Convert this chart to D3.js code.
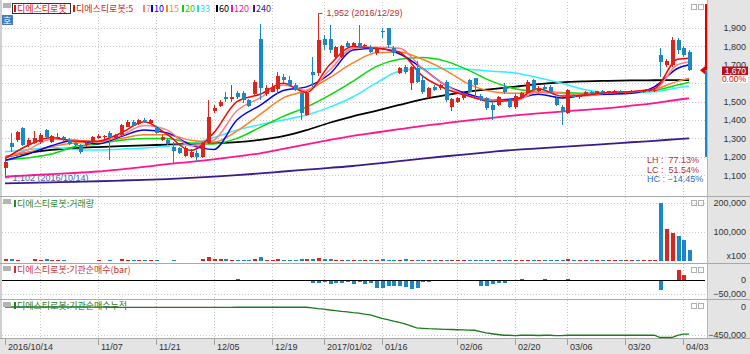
<!DOCTYPE html>
<html><head><meta charset="utf-8">
<script src="https://cdn.jsdelivr.net/npm/d3@7"></script>
<style>
body{margin:0;background:#fff;}
svg{display:block;}
text{font-family:"Liberation Sans","DejaVu Sans",sans-serif;}
.kr{font-family:"Noto Sans CJK KR",sans-serif;}
</style></head><body>
<svg id="c" width="750" height="354"></svg>
<script>
// ---------------- DATA ----------------
const tickIdx    = [0,16,26,36,46,55,65,78,88,97,107,117];
const tickLabels = ["2016/10/14","11/07","11/21","12/05","12/19","2017/01/02","01/16","02/06","02/20","03/06","03/20","04/03"];
const gridIdx    = [6,16,26,36,46,55,65,78,88,97,107,117];

const open  = [1140,1275,1290,1357,1265,1275,1278,1345,1282,1300,1305,1292,1275,1264,1262,1280,1300,1305,1330,1300,
               1318,1364,1391,1380,1402,1385,1357,1290,1290,1255,1248,1205,1200,1220,1200,1273,1450,1476,1525,1516,
               1549,1545,1509,1541,1838,1541,1554,1567,1635,1617,1590,1545,1427,1663,1654,1838,1838,1744,1742,1818,
               1802,1818,1800,1798,1764,1882,1898,1791,1657,1690,1600,1683,1617,1527,1581,1572,1608,1469,1500,1518,
               1617,1627,1530,1518,1481,1481,1581,1509,1470,1520,1545,1617,1560,1580,1581,1518,1472,1436,1530,1525,
               1535,1552,1548,1555,1545,1555,1560,1550,1555,1558,1552,1557,1558,1753,1700,1699,1835,1790,1771];
const high  = [1180,1330,1340,1362,1300,1340,1330,1352,1320,1330,1315,1300,1285,1270,1285,1315,1325,1320,1340,1325,
               1380,1400,1400,1405,1410,1405,1370,1320,1300,1282,1255,1260,1240,1236,1280,1509,1480,1510,1554,1590,
               1560,1555,1515,1620,1922,1590,1600,1660,1650,1640,1600,1563,1560,1744,1952,1860,1916,1800,1810,1830,
               1825,1916,1815,1805,1795,1900,1900,1800,1690,1700,1695,1720,1640,1580,1590,1595,1615,1520,1525,1550,
               1625,1630,1540,1525,1500,1530,1600,1515,1540,1550,1620,1625,1585,1590,1590,1525,1480,1570,1540,1535,
               1555,1560,1560,1565,1560,1565,1565,1560,1565,1565,1560,1570,1570,1791,1730,1850,1845,1800,1780];
const low   = [1102,1225,1280,1258,1255,1270,1270,1300,1275,1295,1285,1262,1250,1215,1255,1275,1295,1295,1183,1295,
               1315,1360,1365,1375,1385,1380,1325,1285,1265,1168,1215,1200,1195,1173,1195,1270,1440,1470,1500,1500,
               1515,1490,1470,1535,1509,1530,1550,1540,1600,1590,1560,1400,1420,1581,1640,1780,1764,1735,1735,1790,
               1795,1790,1795,1765,1755,1846,1790,1750,1650,1650,1563,1600,1540,1520,1560,1565,1500,1450,1495,1510,
               1545,1520,1505,1455,1400,1475,1540,1465,1460,1515,1540,1555,1550,1560,1545,1475,1372,1430,1518,1515,
               1530,1540,1540,1545,1540,1548,1545,1540,1548,1550,1545,1550,1552,1635,1690,1690,1760,1745,1665];
const close = [1170,1255,1335,1264,1290,1300,1318,1307,1312,1308,1295,1272,1262,1226,1275,1310,1315,1312,1300,1320,
               1372,1391,1370,1400,1392,1398,1330,1309,1270,1233,1220,1248,1228,1200,1275,1418,1465,1500,1515,1523,
               1523,1509,1476,1608,1572,1572,1581,1639,1617,1590,1563,1436,1545,1644,1835,1808,1780,1795,1800,1798,
               1818,1798,1806,1771,1791,1877,1808,1764,1683,1663,1690,1608,1554,1572,1563,1590,1509,1512,1519,1545,
               1554,1590,1509,1464,1454,1527,1554,1469,1530,1545,1608,1563,1575,1570,1554,1481,1445,1563,1527,1530,
               1550,1545,1555,1550,1555,1560,1550,1555,1558,1552,1557,1565,1565,1717,1720,1835,1780,1753,1670];
const volume = [6000,6000,5000,800,800,6000,5000,6000,5000,5000,5000,800,800,800,800,800,5000,800,5000,800,
                6000,5000,5000,5000,5000,5000,5000,800,800,5000,800,800,800,800,6000,15000,8000,6000,6000,5000,
                5000,5000,5000,6000,14000,5000,4000,6000,4000,3000,3000,7000,6000,8000,12000,7000,6000,4000,3500,3000,
                4000,4000,3000,3000,5000,7000,5000,4000,5000,6000,5000,5000,4000,3000,3000,4000,4000,3000,2500,3000,
                3500,3000,3000,3500,3000,3000,2500,2500,2500,2500,4000,3000,2500,2000,2500,3000,4000,6000,2500,2000,
                2000,2000,2000,2000,2000,2000,2000,2000,2000,2000,2000,2500,3000,200000,110000,95000,85000,72000,38000];
const netBuy = [0,0,0,0,0,0,0,0,0,0,0,0,0,0,0,-3000,0,0,-3000,0,
                0,0,0,0,0,0,0,0,0,0,0,0,0,0,0,0,0,0,0,0,
                2000,0,0,0,0,0,0,0,0,0,0,0,0,-10000,-12000,-8000,-14000,-10000,-12000,-8000,
                -14000,-6000,-16000,-12000,-30000,-28000,-20000,-22000,-20000,-26000,-32000,-30000,-8000,-6000,-3000,-5000,-4000,-2000,-4000,-3000,
                -3000,-2000,-20000,-22000,-14000,-12000,-12000,0,-5000,5000,0,0,-4000,4000,0,-5000,0,5000,0,0,
                0,0,0,0,0,0,0,0,0,0,0,0,0,-36000,0,0,35000,18000,0];

// moving averages at these candle indexes
const maIdx = [0,4,8,12,16,20,24,28,32,36,40,44,48,52,56,60,64,68,72,76,80,84,88,92,96,100,104,108,112,116,118];
const ma5   = [1190,1263,1305,1285,1285,1330,1390,1320,1235,1330,1500,1540,1600,1550,1700,1800,1790,1770,1640,1570,1530,1500,1510,1570,1530,1535,1550,1555,1570,1730,1735];
const ma7   = [1195,1240,1295,1290,1280,1315,1370,1345,1260,1290,1450,1520,1590,1560,1670,1790,1795,1790,1680,1590,1530,1510,1505,1555,1545,1530,1548,1553,1565,1700,1715];
const ma10  = [1180,1215,1260,1290,1270,1310,1345,1330,1265,1240,1400,1480,1560,1580,1650,1780,1790,1760,1680,1590,1540,1510,1515,1540,1520,1535,1540,1545,1580,1680,1700];
const ma15  = [1200,1225,1255,1275,1280,1300,1320,1320,1290,1280,1340,1430,1520,1560,1630,1710,1765,1770,1730,1670,1595,1555,1545,1550,1545,1540,1545,1550,1565,1610,1625];
const ma20  = [1183,1195,1215,1255,1270,1290,1300,1300,1275,1270,1300,1360,1420,1470,1535,1610,1690,1730,1740,1720,1670,1610,1570,1555,1550,1545,1548,1552,1560,1590,1605];
const ma33  = [1228,1238,1250,1240,1237,1242,1248,1258,1270,1305,1345,1375,1400,1427,1470,1525,1600,1665,1678,1680,1676,1665,1655,1630,1600,1565,1547,1548,1553,1575,1585];
const ma60  = [1200,1222,1238,1247,1253,1258,1262,1266,1270,1274,1280,1292,1312,1345,1385,1420,1450,1482,1512,1535,1554,1568,1581,1595,1605,1610,1613,1615,1616,1617,1617];
const ma120 = [1092,1099,1106,1112,1120,1132,1145,1160,1172,1186,1202,1219,1243,1268,1292,1314,1332,1350,1368,1383,1398,1412,1425,1436,1446,1455,1465,1478,1492,1510,1518];
const ma240 = [1056,1058,1061,1064,1067,1071,1075,1079,1085,1092,1100,1110,1120,1130,1140,1150,1163,1176,1190,1203,1215,1227,1238,1246,1254,1262,1270,1279,1287,1296,1300];

const maNames  = ["5","7","10","15","20","33","60","120","240"];
const maColors = ["#ff0000","#ff7f7f","#0000ff","#ff7f27","#00dd00","#33eeff","#000000","#ff1493","#3c1a8c"];
const maSeries = [ma5,ma7,ma10,ma15,ma20,ma33,ma60,ma120,ma240];

const priceTicks = [1100,1200,1300,1400,1500,1700,1800,1900];
const volTicks   = [100000,200000];
const lastPrice = 1670, hiVal = 1952, hiIdx = 54, loVal = 1102, loIdx = 0;

// ---------------- DRAW ----------------
const svg = d3.select("#c");
const RED="#d9251d", BLUE="#1b87c4";
const PR = 705;
const x = d3.scaleLinear().domain([0,117]).range([5,683.3]);
const yP = d3.scaleLinear().domain([1100,1900]).range([175.2,28]);
const yV = d3.scaleLinear().domain([0,200000]).range([261,203]);
const yN = d3.scaleLinear().domain([-50000,0]).range([294,280]);
const yC = d3.scaleLinear().domain([-450000,0]).range([335,307]);

svg.append("rect").attr("width",750).attr("height",354).attr("fill","#fff");
svg.append("rect").attr("x",708).attr("y",0).attr("width",42).attr("height",354).attr("fill","#e4e4e4");
svg.append("rect").attr("x",0).attr("y",339).attr("width",750).attr("height",15).attr("fill","#e4e4e4");
svg.append("rect").attr("x",0).attr("y",0).attr("width",2).attr("height",339).attr("fill","#d0d0d0");

const panels = [[2,196],[197,263],[264,299],[300,338]];
const grid = svg.append("g").attr("stroke","#c8c8c8").attr("stroke-dasharray","1,2").attr("shape-rendering","crispEdges");
gridIdx.forEach(i=>{
  panels.forEach(p=>grid.append("line").attr("x1",Math.round(x(i))+0.5).attr("x2",Math.round(x(i))+0.5).attr("y1",p[0]).attr("y2",p[1]));
});
[1100,1200,1300,1400,1500,1600,1700,1800,1900].forEach(v=>grid.append("line").attr("x1",2).attr("x2",PR).attr("y1",Math.round(yP(v))+0.5).attr("y2",Math.round(yP(v))+0.5));
volTicks.forEach(v=>grid.append("line").attr("x1",2).attr("x2",PR).attr("y1",Math.round(yV(v))+0.5).attr("y2",Math.round(yV(v))+0.5));
grid.append("line").attr("x1",2).attr("x2",PR).attr("y1",Math.round(yN(-50000))+0.5).attr("y2",Math.round(yN(-50000))+0.5);
grid.append("line").attr("x1",2).attr("x2",PR).attr("y1",Math.round(yC(-450000))+0.5).attr("y2",Math.round(yC(-450000))+0.5);

[196,263,299,338].forEach(yy=>svg.append("line").attr("x1",0).attr("x2",750).attr("y1",yy+0.5).attr("y2",yy+0.5).attr("stroke","#a8a8a8"));
svg.append("line").attr("x1",707.5).attr("x2",707.5).attr("y1",0).attr("y2",339).attr("stroke","#b8b8b8");

svg.append("clipPath").attr("id","cp").append("rect").attr("x",2).attr("y",2).attr("width",PR-2).attr("height",193);
const maG = svg.append("g").attr("clip-path","url(#cp)");
[8,7,6,5,4,3,2,1,0].forEach(k=>{
  const pts = maIdx.map((i,j)=>[i,maSeries[k][j]]);
  maG.append("path").attr("d",d3.line().x(d=>x(d[0])).y(d=>yP(d[1])).curve(d3.curveMonotoneX)(pts))
    .attr("fill","none").attr("stroke",maColors[k]).attr("stroke-width",k<6?1.5:1.8);
});

const cg = svg.append("g").attr("shape-rendering","crispEdges");
close.forEach((c,i)=>{
  const o=open[i], up=c>=o, col=up?RED:BLUE, cx=Math.round(x(i));
  cg.append("line").attr("x1",cx+0.5).attr("x2",cx+0.5).attr("y1",yP(high[i])).attr("y2",yP(low[i])).attr("stroke",col);
  const t=yP(Math.max(o,c)), b=yP(Math.min(o,c));
  cg.append("rect").attr("x",cx-1.5).attr("y",t).attr("width",4).attr("height",Math.max(1,b-t)).attr("fill",col);
});

volume.forEach((v,i)=>{
  const h=yV(0)-yV(v);
  if(h<0.5) return;
  const col=close[i]>=open[i]?RED:BLUE, cx=Math.round(x(i));
  cg.append("rect").attr("x",cx-1.5).attr("y",yV(v)).attr("width",4).attr("height",h).attr("fill",col);
});
svg.append("line").attr("x1",2).attr("x2",PR).attr("y1",280.5).attr("y2",280.5).attr("stroke","#000");
netBuy.forEach((v,i)=>{
  if(!v) return;
  const col=v>0?RED:BLUE, cx=Math.round(x(i));
  const y0=yN(0), y1=yN(v);
  cg.append("rect").attr("x",cx-1.5).attr("y",Math.min(y0,y1)).attr("width",4).attr("height",Math.abs(y1-y0)).attr("fill",col);
});
const cum = d3.cumsum(netBuy);
svg.append("path").attr("d",d3.line().x((d,i)=>x(i)).y(d=>yC(d))(Array.from(cum)))
  .attr("fill","none").attr("stroke","#1c7a1c").attr("stroke-width",1.3);

function rAxis(scale,vals){
  const a = svg.append("g").attr("transform","translate(746,0)")
    .call(d3.axisLeft(scale).tickValues(vals).tickSize(0).tickPadding(0).tickFormat(d3.format(",")));
  a.select(".domain").remove();
  a.selectAll("text").attr("font-size",9).attr("fill","#333");
}
rAxis(yP,priceTicks); rAxis(yV,volTicks); rAxis(yN,[-50000,0]); rAxis(yC,[-450000,0]);
svg.append("text").attr("x",746).attr("y",259).attr("text-anchor","end").attr("font-size",9).attr("fill","#333").text("x100");

tickIdx.forEach((i,k)=>{
  const tx=Math.round(x(i));
  svg.append("line").attr("x1",tx+0.5).attr("x2",tx+0.5).attr("y1",339).attr("y2",345).attr("stroke","#a0a0a0");
  svg.append("text").attr("x",tx+3).attr("y",350).attr("font-size",9).attr("fill","#333").text(tickLabels[k]);
});

svg.append("line").attr("x1",706).attr("x2",706).attr("y1",4).attr("y2",yP(lastPrice)).attr("stroke","#e00000").attr("stroke-width",2);
svg.append("line").attr("x1",706).attr("x2",706).attr("y1",yP(lastPrice)).attr("y2",157).attr("stroke","#1b87c4").attr("stroke-width",2);
svg.append("path").attr("d",`M700,${yP(lastPrice)}l5,-4v8z`).attr("fill","#e00000");
svg.append("rect").attr("x",722).attr("y",66.5).attr("width",26).attr("height",8.5).attr("fill","#b8101c");
svg.append("text").attr("x",746).attr("y",73.5).attr("text-anchor","end").attr("font-size",8.5).attr("fill","#fff").text(d3.format(",")(lastPrice));
svg.append("rect").attr("x",722).attr("y",75).attr("width",26).attr("height",8).attr("fill","#fff");
svg.append("text").attr("x",746).attr("y",82).attr("text-anchor","end").attr("font-size",8.5).attr("fill","#d01010").text("0.00%");

const hx=Math.round(x(hiIdx))+0.5, hy=yP(hiVal);
svg.append("path").attr("d",`M${hx},${hy}V${hy-5}h4`).attr("fill","none").attr("stroke","#c03030");
svg.append("text").attr("x",hx+8).attr("y",hy-2).attr("font-size",9).attr("fill","#c03030").text(`${d3.format(",")(hiVal)} (2016/12/29)`);
const lx=Math.round(x(loIdx))+0.5, ly=yP(loVal);
svg.append("path").attr("d",`M${lx},${ly}V${ly+3}h4`).attr("fill","none").attr("stroke","#4466aa");
svg.append("text").attr("x",lx+7).attr("y",ly+6).attr("font-size",9).attr("fill","#4466aa").text(`${d3.format(",")(loVal)} (2016/10/14)`);

const f2=d3.format(".2f");
const stats=[["LH",(hiVal/loVal-1)*100,"#c03030"],["LC",(lastPrice/loVal-1)*100,"#c03030"],["HC",(lastPrice/hiVal-1)*100,"#1b6fc4"]];
stats.forEach((s,k)=>{
  svg.append("text").attr("x",647).attr("y",163+k*9.5).attr("font-size",9).attr("fill",s[2]).attr("font-family","DejaVu Sans Mono").attr("xml:space","preserve")
   .text(`${s[0]} : ${(f2(s[1])+"%").padStart(7," ")}`);
});

function hdr(y){
  svg.append("rect").attr("x",3).attr("y",y).attr("width",8).attr("height",5).attr("fill","#b4b4b4");
  svg.append("rect").attr("x",691.5).attr("y",y+1.5).attr("width",5).attr("height",5).attr("fill","none").attr("stroke","#b0b0b0");
  svg.append("rect").attr("x",698.5).attr("y",y+1.5).attr("width",5).attr("height",5).attr("fill","none").attr("stroke","#b0b0b0");
}
[3,199,266,302].forEach(hdr);

function legend(xx,y,txt,col){
  svg.append("rect").attr("x",xx).attr("y",y-7).attr("width",2).attr("height",7).attr("fill",col);
  return svg.append("text").attr("class","kr").attr("x",xx+3).attr("y",y).attr("font-size",9).attr("fill",col).text(txt);
}
svg.append("rect").attr("x",12.5).attr("y",3.5).attr("width",58).attr("height",10).attr("fill","none").attr("stroke","#333");
legend(14,12,"디에스티로봇","#e01010");
legend(73,12,"디에스티로봇:5","#e01010");
const legX=[143,151,166,182,197,216,231,253];
for(let k=1;k<9;k++) legend(legX[k-1],12,maNames[k],maColors[k]==="#33eeff"?"#22ddee":maColors[k]);
svg.append("rect").attr("x",2).attr("y",15).attr("width",11).attr("height",10).attr("fill","#4a7ab5");
svg.append("text").attr("class","kr").attr("x",3).attr("y",23.5).attr("font-size",9).attr("fill","#fff").text("호");

legend(14,207,"디에스티로봇:거래량","#2a8a2a");
legend(14,273,"디에스티로봇:기관순매수(bar)","#c83232");
legend(14,309,"디에스티로봇:기관순매수누적","#2a7a2a");
</script>
</body></html>
